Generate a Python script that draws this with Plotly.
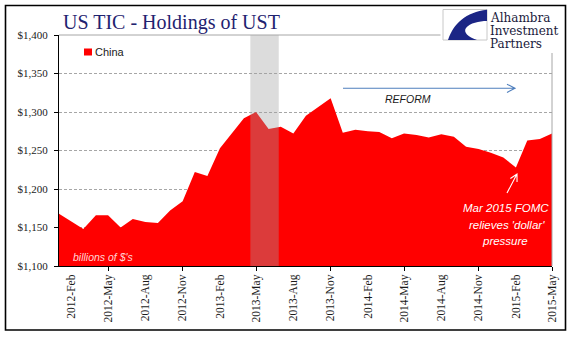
import pandas as pd
import plotly.graph_objects as go
import math

# ---- data ----
months = pd.date_range("2012-01-01", "2015-05-01", freq="MS")
china = [1168, 1158, 1148, 1166, 1166, 1150, 1161, 1157, 1156, 1172, 1184, 1222,
         1217, 1253, 1271, 1292, 1300, 1278, 1281, 1272, 1295, 1306, 1318, 1273,
         1277, 1275, 1274, 1266, 1272, 1270, 1267, 1271, 1268, 1255, 1252, 1247,
         1241, 1228, 1263, 1265, 1272]
tick_dates = pd.date_range("2012-02-01", "2015-05-01", freq="3MS")
tick_labels = [d.strftime("%Y-%b") for d in tick_dates]
y_ticks = [1100, 1150, 1200, 1250, 1300, 1350, 1400]
y_labels = ["$1,100", "$1,150", "$1,200", "$1,250", "$1,300", "$1,350", "$1,400"]
band = ["2013-04-17", "2013-06-26"]

# ---- layout helpers (pixel -> paper) ----
W, H = 577, 341
L, R, T, B = 59, 552, 35, 266
def px(x): return (x - L) / (R - L)
def py(y): return (B - y) / (B - T)

fig = go.Figure()
fig.add_trace(go.Scatter(x=months, y=china, mode="lines", fill="tozeroy",
                         fillcolor="#FF0000", line=dict(width=0, color="#FF0000"),
                         name="China", showlegend=False, hoverinfo="x+y"))

shapes = []
# highlight band
shapes.append(dict(type="rect", xref="x", yref="paper", x0=band[0], x1=band[1], y0=0, y1=1,
                   fillcolor="rgba(159,159,159,0.37)", line=dict(width=0), layer="above"))
# plot border top & right (gray)
shapes.append(dict(type="line", xref="paper", yref="paper", x0=0, x1=1, y0=1, y1=1,
                   line=dict(color="#A6A6A6", width=1), layer="above"))
shapes.append(dict(type="line", xref="paper", yref="paper", x0=1, x1=1, y0=0, y1=1,
                   line=dict(color="#A6A6A6", width=1), layer="above"))
# outer border
shapes.append(dict(type="rect", xref="paper", yref="paper", x0=px(5.5), x1=px(565.5),
                   y0=py(330), y1=py(5.5), line=dict(color="#000000", width=1.6),
                   fillcolor="rgba(0,0,0,0)", layer="above"))
# logo white background
shapes.append(dict(type="rect", xref="paper", yref="paper", x0=px(440.5), x1=px(562),
                   y0=py(53), y1=py(7), fillcolor="#FFFFFF", line=dict(width=0), layer="above"))
# logo box
shapes.append(dict(type="rect", xref="paper", yref="paper", x0=px(443), x1=px(487),
                   y0=py(40), y1=py(9.5), fillcolor="#FFFFFF",
                   line=dict(color="#C8C8C8", width=1), layer="above"))
sw = (f"M {px(487)},{py(9.8)} C {px(466)},{py(12)} {px(453)},{py(24)} {px(448)},{py(40)} "
      f"L {px(477)},{py(40)} C {px(468)},{py(37)} {px(463)},{py(32)} {px(466)},{py(28)} "
      f"C {px(470)},{py(23)} {px(479)},{py(21)} {px(487)},{py(21)} Z")
shapes.append(dict(type="path", xref="paper", yref="paper", path=sw,
                   fillcolor="#1B2585", line=dict(width=0), layer="above"))
# legend swatch
shapes.append(dict(type="rect", xref="paper", yref="paper", x0=px(84), x1=px(92),
                   y0=py(55.5), y1=py(48.5), fillcolor="#FF0000", line=dict(width=0), layer="above"))

def arrow(x0, y0, x1, y1, color, width, head=8, ang=28):
    dx, dy = x1 - x0, y1 - y0
    n = math.hypot(dx, dy)
    ux, uy = dx / n, dy / n
    pts = []
    for s in (1, -1):
        a = math.radians(ang) * s
        bx = -ux * math.cos(a) - uy * math.sin(a)
        by = -uy * math.cos(a) + ux * math.sin(a)
        pts.append((x1 + head * bx, y1 + head * by))
    p = (f"M {px(x0)},{py(y0)} L {px(x1)},{py(y1)} "
         f"M {px(pts[0][0])},{py(pts[0][1])} L {px(x1)},{py(y1)} L {px(pts[1][0])},{py(pts[1][1])}")
    return dict(type="path", xref="paper", yref="paper", path=p,
                line=dict(color=color, width=width), layer="above")

shapes.append(arrow(343, 88.3, 515, 88.3, "#4F7FBD", 1.1, head=9, ang=27))
shapes.append(arrow(507, 193, 517, 174, "#FFFFFF", 1.1, head=8, ang=28))

annotations = [
    dict(text="US TIC - Holdings of UST", x=px(61), y=py(22), xanchor="left", yanchor="middle",
         font=dict(family="Liberation Serif", size=20, color="#1F2370")),
    dict(text="Alhambra", x=px(488), y=py(17.5), xanchor="left", yanchor="middle",
         font=dict(family="DejaVu Serif", size=12, color="#1A1A3C")),
    dict(text="Investment", x=px(488), y=py(31), xanchor="left", yanchor="middle",
         font=dict(family="DejaVu Serif", size=12, color="#1A1A3C")),
    dict(text="Partners", x=px(488), y=py(44), xanchor="left", yanchor="middle",
         font=dict(family="DejaVu Serif", size=12, color="#1A1A3C")),
    dict(text="China", x=px(93), y=py(52), xanchor="left", yanchor="middle",
         font=dict(family="Liberation Sans", size=11, color="#1A1A1A")),
    dict(text="<i>billions of $'s</i>", x=px(71), y=py(257), xanchor="left", yanchor="middle",
         font=dict(family="Liberation Sans", size=10.5, color="#FFD6D6")),
    dict(text="<i>REFORM</i>", x=px(408), y=py(99), xanchor="center", yanchor="middle",
         font=dict(family="Liberation Sans", size=10.5, color="#1A1A1A")),
    dict(text="<i>Mar 2015 FOMC</i>", x=px(506), y=py(208.5), xanchor="center", yanchor="middle",
         font=dict(family="Liberation Sans", size=11.5, color="#FFFFFF")),
    dict(text="<i>relieves 'dollar'</i>", x=px(506.5), y=py(225), xanchor="center", yanchor="middle",
         font=dict(family="Liberation Sans", size=11.5, color="#FFFFFF")),
    dict(text="<i>pressure</i>", x=px(505), y=py(241), xanchor="center", yanchor="middle",
         font=dict(family="Liberation Sans", size=11.5, color="#FFFFFF")),
]
for a in annotations:
    a.update(xref="paper", yref="paper", showarrow=False)

fig.update_layout(
    width=W, height=H,
    margin=dict(l=L, r=W - R, t=T, b=H - B),
    paper_bgcolor="#FFFFFF", plot_bgcolor="#FFFFFF",
    showlegend=False,
    shapes=shapes, annotations=annotations,
    xaxis=dict(type="date", range=[months[0], months[-1]],
               tickvals=list(tick_dates), ticktext=tick_labels, tickangle=-90,
               ticks="", showgrid=False, showline=True, linecolor="#000000", linewidth=1,
               tickfont=dict(family="Liberation Serif", size=11.5, color="#1A1A1A"),
               ticklabelstandoff=3,
               minor=dict(ticks="outside", dtick="M6", tick0="2012-05-01", ticklen=4,
                          tickcolor="#000000", showgrid=False),
               zeroline=False),
    yaxis=dict(range=[1100, 1400], tickvals=y_ticks, ticktext=y_labels,
               ticks="outside", ticklen=4, tickcolor="#000000",
               showline=True, linecolor="#000000", linewidth=1,
               showgrid=True, gridcolor="#A6A6A6", gridwidth=1, griddash="3px,2px",
               tickfont=dict(family="Liberation Serif", size=11, color="#1A1A1A"),
               ticklabelstandoff=4, zeroline=False),
)

fig.write_html("out.html")
